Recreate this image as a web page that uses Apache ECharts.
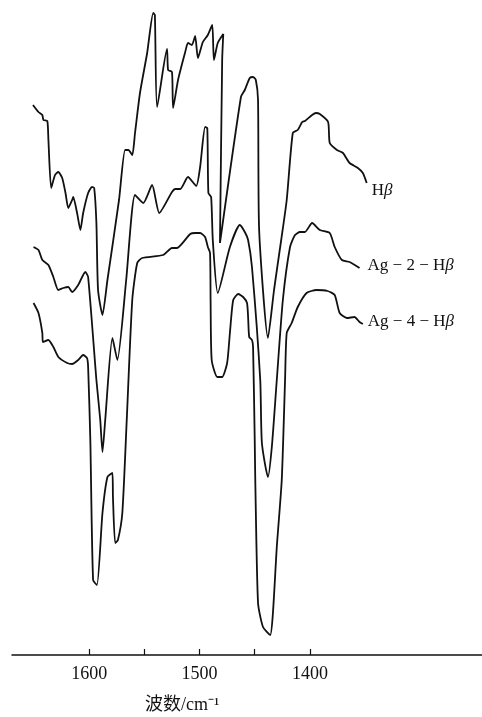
<!DOCTYPE html>
<html>
<head>
<meta charset="utf-8">
<script src="https://cdn.jsdelivr.net/npm/echarts@6/dist/echarts.min.js"></script>
<style>
html, body { margin: 0; padding: 0; background: #fff; }
#chart { width: 482px; height: 717px; }
</style>
</head>
<body>
<div id="chart"></div>
<script>
// IR spectra, wavenumber (cm-1) vs. relative transmittance (arbitrary units, offset curves)
var hbWave = [1651, 1646, 1642.5, 1641.5, 1638, 1637, 1634.5, 1631, 1628, 1624.5, 1621.5, 1619, 1615.5, 1614.5,
    1611, 1608, 1605.5, 1601, 1597.5, 1595.5, 1593.5, 1592, 1588, 1583.5, 1573, 1567.5, 1564.5, 1561, 1558.5,
    1554, 1547.5, 1542, 1540.5, 1538.5, 1529.5, 1528.5, 1525, 1524, 1519.5, 1513, 1510.5, 1507, 1504, 1501.5,
    1497, 1492.5, 1488.5, 1487, 1483.5, 1478.5, 1479.5, 1481.5, 1462.5, 1459, 1454.5, 1451.5, 1449, 1447, 1446,
    1438, 1432.5, 1426, 1421, 1415.5, 1411, 1407, 1404.5, 1398, 1394.5, 1391, 1383.5, 1382, 1375.5, 1370, 1364,
    1356.5, 1352, 1348.5];
var hbT = [550, 543, 540, 535, 534, 515, 467, 480, 483, 477, 462, 447, 455, 458,
    442, 425, 442, 462, 468, 467, 432, 365, 340, 375, 455, 505, 505, 500, 522,
    562, 602, 642, 640, 548, 606, 585, 583, 547, 575, 603, 612, 610, 619, 597,
    613, 620, 630, 595, 612, 621, 595, 412, 558, 565, 577, 578, 575, 555, 425,
    317, 365, 415, 455, 522, 525, 533, 534, 540, 542, 541, 533, 512, 505, 502, 492,
    487, 482, 472];

var ag2Wave = [1650.5, 1646, 1642.5, 1637, 1632.5, 1628, 1623.5, 1619, 1615.5, 1610, 1603.5, 1601, 1593.5, 1590,
    1588, 1585.5, 1579, 1574.5, 1566.5, 1558.5, 1551, 1543, 1536.5, 1525, 1522, 1517.5, 1510.5, 1503, 1499.5,
    1495, 1493, 1492, 1489.5, 1488, 1483.5, 1472.5, 1463.5, 1459, 1456, 1452.5, 1445, 1443.5, 1438, 1434.5,
    1430, 1424.5, 1418, 1413.5, 1409, 1404.5, 1398, 1391, 1382, 1377.5, 1371, 1364, 1355];
var ag2T = [408, 405, 395, 390, 378, 365, 367, 368, 363, 370, 383, 378, 275, 235,
    203, 235, 317, 295, 375, 460, 452, 470, 442, 463, 466, 466, 478, 469, 488,
    528, 527, 462, 458, 415, 362, 408, 430, 423, 415, 388, 275, 212, 178, 208,
    275, 355, 408, 420, 423, 423, 432, 425, 422, 408, 395, 393, 387];

var ag4Wave = [1650.5, 1646, 1642.5, 1642, 1637, 1632.5, 1628, 1620, 1615.5, 1610, 1605.5, 1602, 1601, 1599,
    1596.5, 1593, 1588, 1583.5, 1579, 1578.5, 1576.5, 1574, 1570, 1566, 1561, 1556.5, 1552, 1533, 1525,
    1520.5, 1508.5, 1504, 1499.5, 1495, 1492.5, 1490.5, 1490, 1489, 1484, 1479.5, 1475, 1472.5, 1469.5, 1465,
    1460.5, 1457, 1456, 1455, 1452.5, 1451.5, 1450, 1449.5, 1447, 1442.5, 1436, 1433.5, 1430, 1425.5, 1422.5,
    1421, 1416.5, 1411, 1403, 1394, 1384, 1377.5, 1373, 1366.5, 1359.5, 1355, 1352];
var ag4T = [352, 342, 322, 313, 315, 308, 298, 292, 291, 295, 300, 297, 288, 215,
    75, 70, 142, 178, 182, 158, 112, 115, 142, 235, 355, 392, 397, 400, 407,
    407, 421, 422, 422, 418, 408, 402, 355, 295, 278, 278, 292, 322, 355, 361,
    358, 352, 338, 318, 315, 308, 215, 175, 52, 28, 20, 42, 108, 175, 275,
    322, 332, 348, 362, 365, 364, 360, 342, 337, 338, 333, 331];

var tickValues = [1400, 1450, 1500, 1550, 1600];
var labelValues = [1400, 1500, 1600];

function zip(xs, ys) {
    var out = [];
    for (var i = 0; i < xs.length; i++) {
        out.push([xs[i], ys[i]]);
    }
    return out;
}

var serif = 'Liberation Serif';
var ink = '#111';

function curve(name, xs, ys, label, offset) {
    return {
        name: name,
        type: 'line',
        symbol: 'none',
        smooth: 0.2,
        data: zip(xs, ys),
        lineStyle: { color: ink, width: 1.8 },
        endLabel: {
            show: true,
            formatter: label,
            align: 'left',
            verticalAlign: 'middle',
            distance: 0,
            offset: offset,
            color: ink,
            fontFamily: serif,
            fontSize: 17,
            rich: {
                i: { fontStyle: 'italic', fontFamily: serif, fontSize: 17, color: ink }
            }
        }
    };
}

var chart = echarts.init(document.getElementById('chart'));
var option = {
    animation: false,
    backgroundColor: '#fff',
    title: {
        text: '波数/cm⁻¹',
        left: 145,
        top: 696,
        padding: 0,
        textStyle: {
            fontFamily: serif + ', Noto Sans CJK SC',
            fontSize: 18,
            fontWeight: 'normal',
            color: ink
        }
    },
    grid: {
        left: 12,
        right: 0,
        top: 0,
        bottom: 62
    },
    xAxis: {
        type: 'value',
        inverse: true,
        min: 1244,
        max: 1670,
        splitLine: { show: false },
        axisLine: { lineStyle: { color: ink, width: 1.5 } },
        axisTick: {
            inside: true,
            length: 6,
            customValues: tickValues,
            lineStyle: { color: ink, width: 1.2 }
        },
        axisLabel: {
            customValues: labelValues,
            formatter: function (v) { return String(v); },
            margin: 10,
            color: ink,
            fontFamily: serif,
            fontSize: 18
        }
    },
    yAxis: {
        type: 'value',
        min: 0,
        max: 655,
        show: false
    },
    series: [
        curve('Hβ', hbWave, hbT, 'H{i|β}', [5, 8]),
        curve('Ag-2-Hβ', ag2Wave, ag2T, 'Ag − 2 − H{i|β}', [8, -2]),
        curve('Ag-4-Hβ', ag4Wave, ag4T, 'Ag − 4 − H{i|β}', [5, -2])
    ]
};
chart.setOption(option);
</script>
</body>
</html>
